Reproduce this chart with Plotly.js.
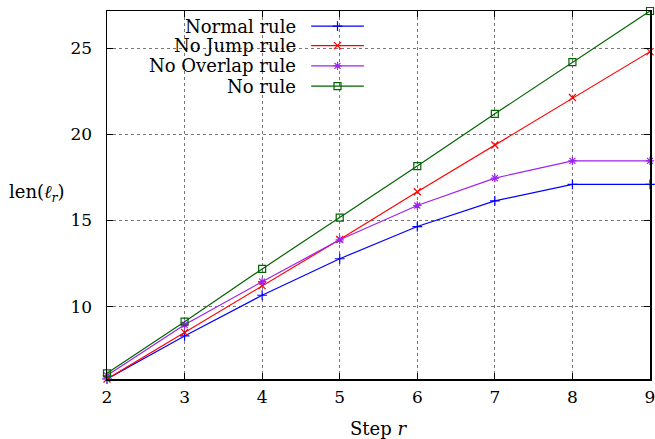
<!DOCTYPE html>
<html><head><meta charset="utf-8">
<script src="https://cdn.plot.ly/plotly-3.0.1.min.js"></script>
<style>html,body{margin:0;padding:0;background:#fff}#chart{width:655px;height:439px}</style>
</head><body><div id="chart"></div>
<script>
const steps = [2, 3, 4, 5, 6, 7, 8, 9];
const normalRule = [5.8, 8.3, 10.66, 12.78, 14.65, 16.14, 17.1, 17.1];
const noJumpRule = [5.8, 8.51, 11.22, 13.9, 16.67, 19.38, 22.14, 24.8];
const noOverlapRule = [6.0, 8.95, 11.45, 13.88, 15.87, 17.46, 18.46, 18.46];
const noRule = [6.13, 9.13, 12.19, 15.17, 18.16, 21.19, 24.19, 27.16];
const seriesNames = ["Normal rule", "No Jump rule", "No Overlap rule", "No rule"];
const yTicks = [10, 15, 20, 25];

const colors = ["#0000ff", "#ff0000", "#a020f0", "#006400"];
const symbols = ["cross-thin-open", "x-thin-open", "asterisk-open", "square-open"];
const allSeries = [normalRule, noJumpRule, noOverlapRule, noRule];
const font = "DejaVu Serif";

const traces = allSeries.map((ys, i) => ({
  x: steps, y: ys, type: "scatter", mode: "lines+markers", name: seriesNames[i],
  line: {color: colors[i], width: 1.2},
  marker: {symbol: symbols[i], size: 7, color: colors[i], line: {color: colors[i], width: 1.2}},
  showlegend: false, cliponaxis: false
}));

const legY = [0.959, 0.906, 0.851, 0.796];
const annotations = [];
const shapes = [];
seriesNames.forEach((n, i) => {
  annotations.push({xref: "paper", yref: "paper", x: 0.352, y: legY[i], xanchor: "right", yanchor: "middle",
    text: n, showarrow: false, font: {family: font, size: 18, color: "#000"}});
  shapes.push({type: "line", xref: "paper", yref: "paper", x0: 0.376, x1: 0.473, y0: legY[i], y1: legY[i],
    line: {color: colors[i], width: 1.2}});
  traces.push({x: [0.4245], y: [legY[i]], xaxis: "x2", yaxis: "y2", type: "scatter", mode: "markers",
    marker: {symbol: symbols[i], size: 7, color: colors[i], line: {color: colors[i], width: 1.2}},
    showlegend: false, hoverinfo: "skip"});
});

annotations.push({xref: "paper", yref: "paper", x: -0.129, y: 0.505, xanchor: "center", yanchor: "middle",
  text: "len(<i>ℓ</i><sub><i>r</i></sub>)", showarrow: false, font: {family: font, size: 18, color: "#000"}});
annotations.push({xref: "paper", yref: "paper", x: 0.5, y: -0.134, xanchor: "center", yanchor: "middle",
  text: "Step <i>r</i>", showarrow: false, font: {family: font, size: 18, color: "#000"}});

const layout = {
  width: 655, height: 439,
  margin: {l: 107, r: 5, t: 11, b: 60},
  paper_bgcolor: "#fff", plot_bgcolor: "#fff",
  font: {family: font, size: 17, color: "#000"},
  showlegend: false,
  xaxis: {range: [2, 9], tickvals: steps, ticks: "inside", ticklen: 6, tickcolor: "#000",
    showline: true, linecolor: "#000", linewidth: 1.5, mirror: "allticks",
    showgrid: true, gridcolor: "#777", griddash: "dot", gridwidth: 1, zeroline: false,
    tickfont: {family: font, size: 17}, ticklabeloverflow: "allow", ticklabelstandoff: 2, fixedrange: true},
  yaxis: {range: [5.8, 27.16], tickvals: yTicks, ticks: "inside", ticklen: 6, tickcolor: "#000",
    showline: true, linecolor: "#000", linewidth: 1.5, mirror: "allticks",
    showgrid: true, gridcolor: "#777", griddash: "dot", gridwidth: 1, zeroline: false,
    tickfont: {family: font, size: 17}, ticklabelstandoff: 10, fixedrange: true},
  xaxis2: {overlaying: "x", range: [0, 1], visible: false, anchor: "y2"},
  yaxis2: {overlaying: "y", range: [0, 1], visible: false, anchor: "x2"},
  annotations: annotations,
  shapes: shapes
};
Plotly.newPlot("chart", traces, layout, {displayModeBar: false, staticPlot: true});
</script></body></html>
